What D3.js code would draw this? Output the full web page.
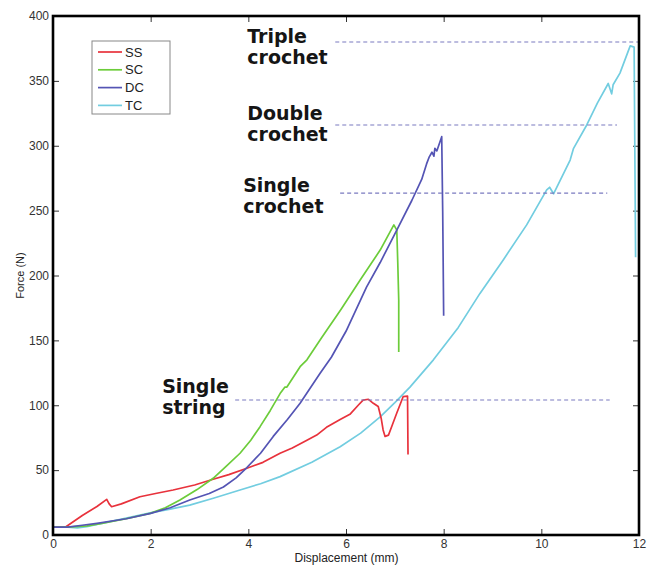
<!DOCTYPE html>
<html>
<head>
<meta charset="utf-8">
<script src="https://cdn.jsdelivr.net/npm/d3@7/dist/d3.min.js"></script>
<style>
  html, body { margin: 0; padding: 0; background: #fff; }
  svg { display: block; }
</style>
</head>
<body>
<div id="chart"></div>
<script>
// ---------- DATA ----------
const seriesNames = ["SS", "SC", "DC", "TC"];
const seriesColors = ["#e8323c", "#6ccc3a", "#5454b4", "#72cde0"];

const ssX = [0, 0.25, 0.6, 0.9, 1.1, 1.15, 1.2, 1.4, 1.78, 2.1, 2.46, 2.9, 3.28, 3.6, 3.97, 4.3, 4.65, 4.9, 5.2, 5.4, 5.6, 5.88, 6.08, 6.25, 6.35, 6.46, 6.56, 6.66, 6.72, 6.76, 6.8, 6.87, 6.95, 7.04, 7.17, 7.26, 7.27];
const ssY = [6, 6, 15, 22, 27.5, 24, 21.8, 24, 29.5, 32, 34.7, 38.5, 43, 46.5, 51.4, 56, 63, 67, 73, 77, 83, 89, 93, 100, 104, 104.6, 101.5, 99, 90, 81, 76, 77, 85, 94, 106.6, 107, 62];

const scX = [0, 0.3, 0.7, 1.0, 1.5, 1.99, 2.3, 2.6, 2.95, 3.28, 3.55, 3.83, 4.05, 4.24, 4.45, 4.65, 4.75, 4.79, 5.06, 5.2, 5.5, 5.9, 6.29, 6.7, 6.98, 7.04, 7.06, 7.08, 7.08];
const scY = [6, 6, 7, 9, 12.5, 16.7, 21, 27, 35, 43.7, 53, 63, 73, 83.5, 96, 109, 114, 114, 129.7, 135, 152, 174, 196.5, 219.6, 239, 235, 210, 181, 141];

const dcX = [0, 0.3, 0.6, 0.9, 1.5, 2.0, 2.4, 2.8, 3.2, 3.49, 3.75, 3.97, 4.25, 4.51, 4.8, 5.06, 5.47, 5.7, 6.0, 6.42, 6.7, 7.04, 7.35, 7.55, 7.65, 7.7, 7.76, 7.8, 7.82, 7.86, 7.96, 7.98, 8.0];
const dcY = [6, 6, 7.5, 9, 12.5, 16.7, 21, 27, 32, 37, 44, 52, 63, 76, 89, 101.5, 124.6, 137, 157, 191, 210, 235, 258, 274, 286, 291, 295, 292, 298, 296, 307, 250, 169];

const tcX = [0, 0.3, 0.5, 0.69, 1.0, 1.5, 1.99, 2.4, 2.8, 3.3, 3.83, 4.25, 4.65, 5.3, 5.88, 6.3, 6.7, 7.0, 7.31, 7.79, 8.3, 8.74, 9.22, 9.7, 10.11, 10.17, 10.25, 10.59, 10.66, 10.93, 11.15, 11.37, 11.44, 11.47, 11.61, 11.82, 11.9, 11.93];
const tcY = [6, 6, 5.5, 6.4, 9, 13, 17, 20, 23, 28.5, 34.7, 39.5, 45, 56, 68, 78.5, 91, 102, 114, 135, 160, 186, 212, 239, 266, 268, 263, 289, 298, 316, 333, 348, 340, 347, 356, 377, 376, 214];

// reference (dashed) lines
const refLabels = [["Triple", "crochet"], ["Double", "crochet"], ["Single", "crochet"], ["Single", "string"]];
const refLevels = [380, 316, 263.5, 104];
const refStartX = [5.78, 5.78, 5.88, 3.73];
const refEndX = [12, 11.55, 11.35, 11.4];

const xTicks = [0, 2, 4, 6, 8, 10, 12];
const yTicks = [0, 50, 100, 150, 200, 250, 300, 350, 400];
const xTitle = "Displacement (mm)";
const yTitle = "Force (N)";

// ---------- LAYOUT ----------
const W = 647, H = 566;
const m = { left: 53, right: 8, top: 16, bottom: 31 };
const iw = W - m.left - m.right, ih = H - m.top - m.bottom;

const svg = d3.select("#chart").append("svg").attr("width", W).attr("height", H);
const g = svg.append("g").attr("transform", `translate(${m.left},${m.top})`);

const x = d3.scaleLinear().domain([0, 12]).range([0, iw]);
const y = d3.scaleLinear().domain([0, 400]).range([ih, 0]);

const tickFont = "'Liberation Sans', Arial, sans-serif";

// axes (ticks pointing inward, mirrored on all sides)
const axB = g.append("g").attr("transform", `translate(0,${ih})`)
  .call(d3.axisBottom(x).tickValues(xTicks).tickSizeInner(-6).tickSizeOuter(0).tickPadding(3).tickFormat(d3.format("d")));
const axL = g.append("g")
  .call(d3.axisLeft(y).tickValues(yTicks).tickSizeInner(-6).tickSizeOuter(0).tickPadding(4).tickFormat(d3.format("d")));
const axT = g.append("g")
  .call(d3.axisTop(x).tickValues(xTicks).tickSizeInner(-6).tickSizeOuter(0).tickFormat(""));
const axR = g.append("g").attr("transform", `translate(${iw},0)`)
  .call(d3.axisRight(y).tickValues(yTicks).tickSizeInner(-6).tickSizeOuter(0).tickFormat(""));
[axB, axL, axT, axR].forEach(a => {
  a.select(".domain").remove();
  a.selectAll(".tick line").attr("stroke", "#333").attr("stroke-width", 1);
  a.selectAll(".tick text").attr("fill", "#333").style("font-family", tickFont).style("font-size", "12px");
});
axB.selectAll(".tick text").attr("y", 4).attr("dy", "0.71em");

// series
const line = d3.line().x(d => x(d[0])).y(d => y(d[1]));
const seriesData = [
  d3.zip(ssX, ssY), d3.zip(scX, scY), d3.zip(dcX, dcY), d3.zip(tcX, tcY)
];
// draw order: TC, SS, SC, DC (DC on top of SC)
[3, 0, 1, 2].forEach(i => {
  g.append("path").datum(seriesData[i])
    .attr("d", line).attr("fill", "none")
    .attr("stroke", seriesColors[i]).attr("stroke-width", 1.7)
    .attr("stroke-linejoin", "round");
});

// reference dashed lines
refLevels.forEach((lv, i) => {
  g.append("line")
    .attr("x1", x(refStartX[i])).attr("x2", x(refEndX[i]))
    .attr("y1", y(lv)).attr("y2", y(lv))
    .attr("stroke", "#7a7ac0").attr("stroke-width", 1.1)
    .attr("stroke-dasharray", "4,3");
});

// annotation labels (pixel offsets relative to the line start)
const labelDx = [-88, -88, -97, -73];
const labelDy = [1, -5, -1, -7];
refLabels.forEach((lines, i) => {
  const t = g.append("text")
    .attr("x", x(refStartX[i]) + labelDx[i])
    .attr("y", y(refLevels[i]) + labelDy[i])
    .attr("fill", "#151515")
    .style("font-family", "'DejaVu Sans', Verdana, sans-serif")
    .style("font-weight", "bold").style("font-size", "19px");
  lines.forEach((s, k) => t.append("tspan")
    .attr("x", x(refStartX[i]) + labelDx[i]).attr("dy", k === 0 ? 0 : 21).text(s));
});

// frame
g.append("rect").attr("x", 0).attr("y", 0).attr("width", iw).attr("height", ih)
  .attr("fill", "none").attr("stroke", "#000").attr("stroke-width", 2.6);

// axis titles
svg.append("text").attr("x", m.left + iw / 2 + 0.5).attr("y", 562)
  .attr("text-anchor", "middle").attr("fill", "#222")
  .style("font-family", tickFont).style("font-size", "12px").text(xTitle);
svg.append("text").attr("transform", `translate(24,${m.top + ih / 2}) rotate(-90)`)
  .attr("text-anchor", "middle").attr("fill", "#222")
  .style("font-family", tickFont).style("font-size", "11px").text(yTitle);

// legend
const lg = svg.append("g").attr("transform", "translate(92,41)");
lg.append("rect").attr("width", 78).attr("height", 73)
  .attr("fill", "#fff").attr("stroke", "#888").attr("stroke-width", 1);
seriesNames.forEach((n, i) => {
  const yy = 11 + i * 17.8;
  lg.append("line").attr("x1", 6).attr("x2", 30).attr("y1", yy).attr("y2", yy)
    .attr("stroke", seriesColors[i]).attr("stroke-width", 1.7);
  lg.append("text").attr("x", 33).attr("y", yy).attr("dy", "0.36em")
    .attr("fill", "#222").style("font-family", tickFont).style("font-size", "13px").text(n);
});
</script>
</body>
</html>
